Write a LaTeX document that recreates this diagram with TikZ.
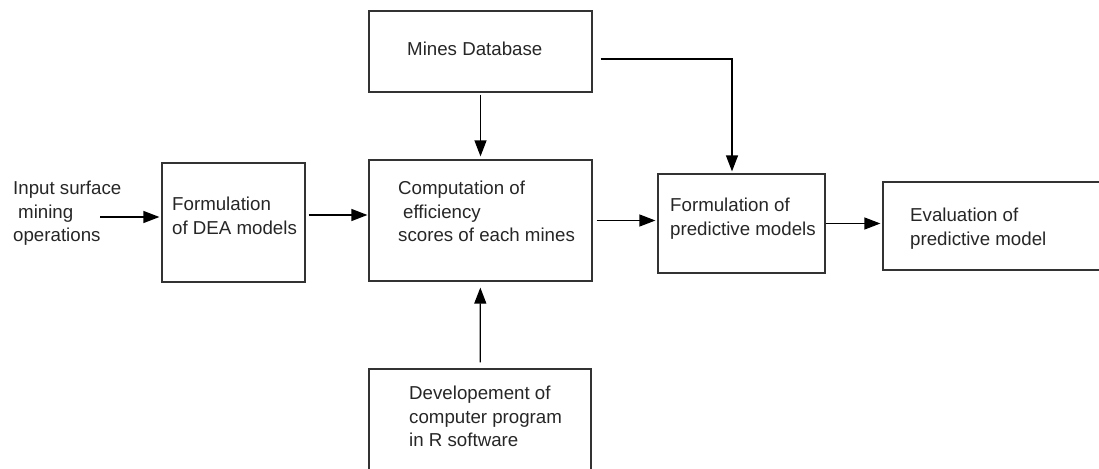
\documentclass[tikz,border=0pt]{standalone}
\usepackage{fontspec}
\setmainfont{Liberation Sans}
\usetikzlibrary{arrows.meta,positioning}

\begin{document}
\begin{tikzpicture}[x=1pt, y=-1pt,
    box/.style={draw=black!80, line width=1.2pt, inner sep=0pt},
    txt/.style={anchor=north west, align=left, inner sep=0pt, text=black!85, font=\fontsize{18.7}{23.5}\selectfont},
    arr/.style={-{Triangle[length=16pt, width=12pt]}, line width=1.2pt}
]
\useasboundingbox (0,0) rectangle (1099,468);

% boxes
\node[box, minimum width=223pt, minimum height=81pt] (db) at (480.5,51.5) {};
\node[box, minimum width=143pt, minimum height=119pt] (dea) at (233.5,222.5) {};
\node[box, minimum width=223pt, minimum height=121pt] (comp) at (480.5,220.5) {};
\node[box, minimum width=222pt, minimum height=108pt] (dev) at (480,423) {};
\node[box, minimum width=167pt, minimum height=99pt] (pred) at (741.5,223.5) {};
\node[box, minimum width=227pt, minimum height=88pt] (eval) at (996.5,226) {};

% texts
\node[txt] (input) at (13,181) {Input surface\\\hspace{5pt}mining\\operations};
\node[txt] (dbtext) at (407,42) {Mines Database};
\node[txt] (deatext) at (172,197) {Formulation\\of DEA models};
\node[txt] (comptext) at (398,181) {Computation of\\\hspace{5pt}efficiency\\scores of each mines};
\node[txt] (devtext) at (409,386) {Developement of\\computer program\\in R software};
\node[txt] (predtext) at (670,198) {Formulation of\\predictive models};
\node[txt] (evaltext) at (910,208) {Evaluation of\\predictive model};

% connectors
\coordinate (in) at (100,217);
\path ([yshift=7.5pt]dea.east) coordinate (d1);
\path ([shift={(8,7.5)}]db.east) coordinate (d2);

\draw[arr, shorten >=2pt] (in) -- (in -| dea.west);
\draw[arr, shorten <=3pt, shorten >=1pt] (d1) -- (d1 -| comp.west);
\draw[arr, shorten <=2pt, shorten >=3pt] (db) -- (comp);
\draw[arr, shorten <=6pt, shorten >=6pt] (dev) -- (comp);
\draw[arr, shorten <=4pt, shorten >=2pt] (comp.east) -- (comp.east -| pred.west);
\draw[arr, shorten >=2pt] (pred.east) -- (pred.east -| eval.west);
\draw[arr, shorten >=2pt] (d2) -| ([xshift=-9.5pt]pred.north);
\end{tikzpicture}
\end{document}
